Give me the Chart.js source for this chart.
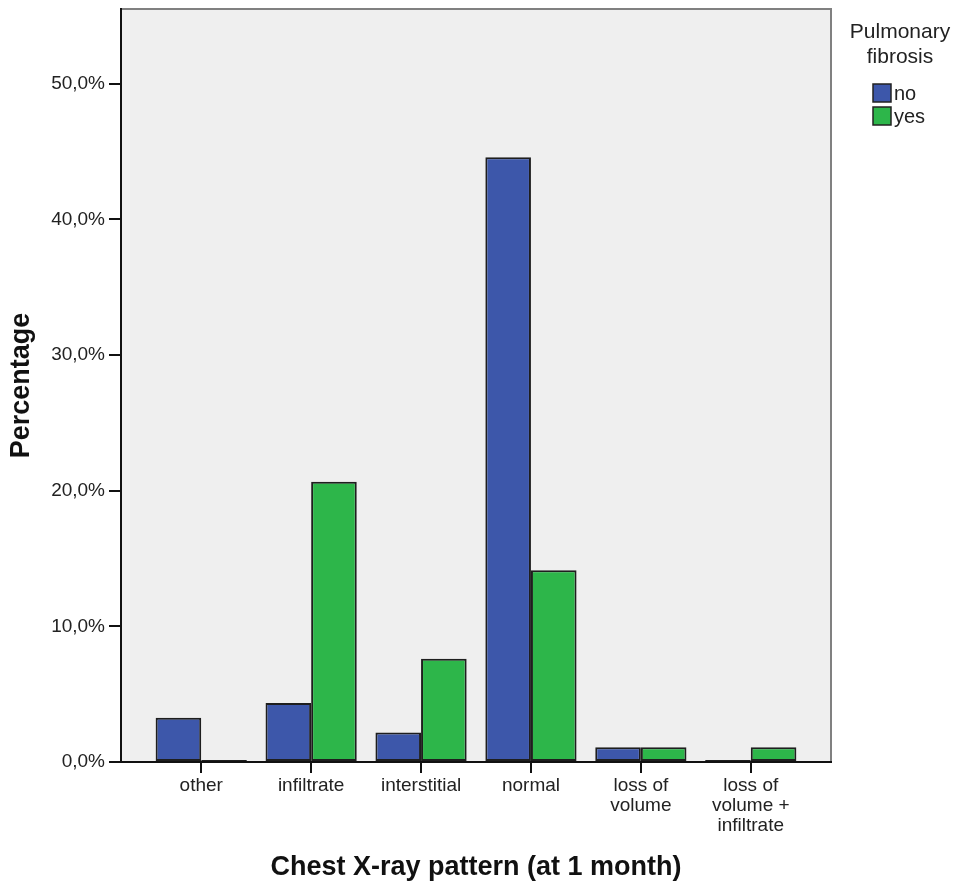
<!DOCTYPE html>
<html>
<head>
<meta charset="utf-8">
<script src="https://cdn.jsdelivr.net/npm/chart.js@4"></script>
<style>
  html, body { margin: 0; padding: 0; background: #fff; }
  #wrap { width: 958px; height: 885px; position: relative; }
</style>
</head>
<body>
<div id="wrap"><canvas id="chart"></canvas></div>
<script>
// category labels (multi-line where the original wraps)
const categories = [
  ['other'],
  ['infiltrate'],
  ['interstitial'],
  ['normal'],
  ['loss of', 'volume'],
  ['loss of', 'volume +', 'infiltrate'],
];
// percent of patients, Pulmonary fibrosis = no / yes
const noValues = [3.26, 4.35, 2.17, 44.57, 1.09, 0];
const yesValues = [0, 20.65, 7.61, 14.13, 1.09, 1.09];
const yTicks = [0, 10, 20, 30, 40, 50];
const seriesNames = ['no', 'yes'];
const legendTitle = ['Pulmonary', 'fibrosis'];

const FONT = "'Liberation Sans', Arial, sans-serif";
const BLUE = '#3d57aa';
const GREEN = '#2db64a';

const plotFrame = {
  id: 'plotFrame',
  beforeDraw(chart) {
    const {ctx, chartArea: a} = chart;
    ctx.save();
    ctx.fillStyle = '#efefef';
    ctx.fillRect(a.left, a.top, a.width, a.height);
    ctx.strokeStyle = '#808080';
    ctx.lineWidth = 2;
    ctx.beginPath();
    ctx.moveTo(a.left, a.top);
    ctx.lineTo(a.right, a.top);
    ctx.lineTo(a.right, a.bottom);
    ctx.stroke();
    ctx.restore();
  }
};

// legend on the right, SPSS style
const sideLegend = {
  id: 'sideLegend',
  afterDraw(chart) {
    const {ctx, chartArea: a} = chart;
    const cx = a.right + 69;
    ctx.save();
    ctx.fillStyle = '#222';
    ctx.font = '21px ' + FONT;
    ctx.textAlign = 'center';
    ctx.textBaseline = 'alphabetic';
    legendTitle.forEach((t, i) => ctx.fillText(t, cx, 38 + i * 25));
    ctx.textAlign = 'left';
    ctx.textBaseline = 'middle';
    ctx.font = '20px ' + FONT;
    chart.data.datasets.forEach((ds, i) => {
      const y = 84 + i * 23;
      ctx.fillStyle = ds.backgroundColor;
      ctx.fillRect(a.right + 42, y, 18, 18);
      ctx.strokeStyle = '#222';
      ctx.lineWidth = 1.5;
      ctx.strokeRect(a.right + 42, y, 18, 18);
      ctx.fillStyle = '#222';
      ctx.fillText(ds.label, a.right + 63, y + 10);
    });
    ctx.restore();
  }
};

const toPoints = vals => vals.map((v, i) => ({x: i, y: v}));

new Chart(document.getElementById('chart'), {
  type: 'bar',
  data: {
    datasets: [
      {
        label: seriesNames[0],
        data: toPoints(noValues),
        backgroundColor: BLUE,
      },
      {
        label: seriesNames[1],
        data: toPoints(yesValues),
        backgroundColor: GREEN,
      },
    ]
  },
  options: {
    responsive: true,
    maintainAspectRatio: false,
    animation: false,
    layout: {padding: {top: 9, right: 127, left: 0, bottom: 0}},
    datasets: {
      bar: {
        categoryPercentage: 0.83,
        barPercentage: 1.0,
        borderColor: '#1e1e1e',
        borderWidth: 2,
        borderSkipped: false,
        minBarLength: 2,
      }
    },
    plugins: {
      legend: {display: false},
      tooltip: {enabled: false},
    },
    scales: {
      x: {
        type: 'linear',
        min: -0.73,
        max: 5.73,
        offset: false,
        afterBuildTicks: s => { s.ticks = categories.map((c, i) => ({value: i})); },
        afterFit: s => { s.height = 123; s.paddingLeft = 0; s.paddingRight = 0; },
        grid: {offset: false, drawOnChartArea: false, drawTicks: true, tickLength: 11, color: '#111', lineWidth: 2},
        border: {display: true, color: '#111', width: 2},
        ticks: {
          autoSkip: false,
          maxRotation: 0,
          padding: 3,
          color: '#222',
          font: {family: FONT, size: 19, lineHeight: 1.05},
          callback: v => categories[v],
        },
        title: {
          display: true,
          text: 'Chest X-ray pattern (at 1 month)',
          color: '#111',
          font: {family: FONT, size: 27, weight: 'bold'},
          padding: {top: 0, bottom: 1},
        },
      },
      y: {
        min: 0,
        max: 55.5,
        afterBuildTicks: s => { s.ticks = yTicks.map(v => ({value: v})); },
        afterFit: s => { s.width = 121; s.paddingTop = 0; s.paddingBottom = 0; },
        grid: {drawOnChartArea: false, drawTicks: true, tickLength: 12, color: '#111', lineWidth: 2},
        border: {display: true, color: '#111', width: 2},
        ticks: {
          padding: 4,
          color: '#222',
          font: {family: FONT, size: 19},
          callback: v => v.toFixed(1).replace('.', ',') + '%',
        },
        title: {
          display: true,
          text: 'Percentage',
          color: '#111',
          font: {family: FONT, size: 27, weight: 'bold'},
          padding: {top: 5, bottom: 0},
        },
      },
    },
  },
  plugins: [plotFrame, sideLegend],
});
</script>
</body>
</html>
